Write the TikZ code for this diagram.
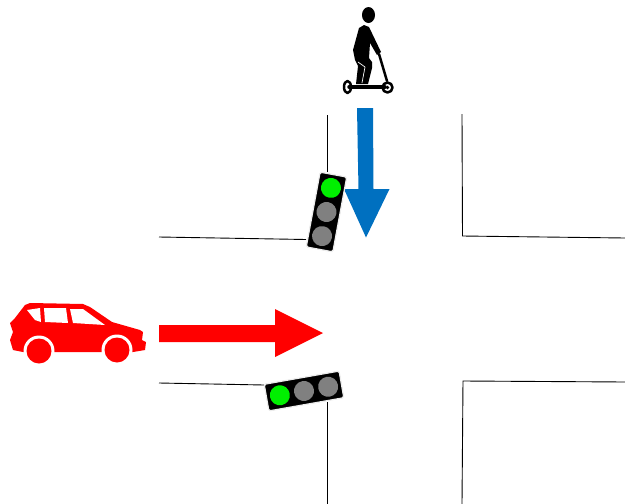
\documentclass[tikz,border=0pt]{standalone}
\definecolor{arrowblue}{HTML}{0070C0}
\definecolor{lampgreen}{HTML}{00F000}
\definecolor{lampgrey}{HTML}{808080}
\tikzset{
  road/.style={draw=black,line width=0.9pt},
  housing/.style={fill=black,draw=white!93!black,line width=1.2pt,rounded corners=1.5pt},
  carbody/.style={fill=red,draw=none},
  rider/.style={draw=black,line cap=round,line join=round},
}
\begin{document}
\begin{tikzpicture}[x=1pt,y=-1pt]
\useasboundingbox (0,0) rectangle (625,504);
% roads
\draw[road] (327,115) -- (327,172);
\draw[road] (159,237) -- (306,239.5);
\draw[road] (462,114) -- (462.5,236) -- (625,238);
\draw[road] (159,383) -- (264,385);
\draw[road] (327,402) -- (327,504);
\draw[road] (462,504) -- (463,381) -- (625,382);
% arrows
\fill[arrowblue] (357,108) -- (373,108) -- (373.5,189) -- (389.5,189) -- (366,237.5) -- (344,189) -- (358.5,189) -- cycle;
\fill[red] (159,325) -- (275,325) -- (275,309) -- (323,333) -- (275,357) -- (275,342) -- (159,342) -- cycle;
% north light
\begin{scope}[shift={(326.5,212)},rotate=-10.5]
\draw[housing] (-13.5,-38) rectangle (13.5,38);
\fill[lampgreen] (0,-24.5) circle (10);
\fill[lampgrey] (0,0) circle (10);
\fill[lampgrey] (0,24.5) circle (10);
\end{scope}
% south light
\begin{scope}[shift={(304,391)},rotate=10]
\draw[housing] (-38,-13.5) rectangle (38,13.5);
\fill[lampgreen] (-24.5,0) circle (10);
\fill[lampgrey] (0,0) circle (10);
\fill[lampgrey] (24.5,0) circle (10);
\end{scope}
% car
\fill[carbody] (10,323) -- (15,318) -- (25,305) -- (30,303) -- (83,304) -- (90,307) -- (112,322) -- (140,330) -- (143,332) -- (142,340) -- (146,342) -- (145,350) -- (133,352) -- (23,352) -- (13,350) -- (10,340) -- (13,332) -- cycle;
\fill[white] (39,351) circle (15.5);
\fill[white] (117,350) circle (15.5);
\fill[carbody] (39,351) circle (12.5);
\fill[carbody] (117,350) circle (12.5);
\fill[white] (27,310) -- (40,308) -- (41,322) -- (35,320) -- cycle;
\fill[white] (44,308) -- (66,308) -- (68,323) -- (45,322) -- cycle;
\fill[white] (70,309) -- (83,309) -- (105,325) -- (73,323) -- cycle;
% scooter rider
\fill[black] (368.5,15) ellipse (6.5 and 8);
\fill[black] (359,28) -- (364,25) -- (369,27) -- (381,52) -- (377,55) -- (370,43) -- (369,58) -- (372,62) -- (372,68) -- (368,84) -- (356,84) -- (358,66) -- (355,60) -- (353,50) -- cycle;
\draw[white,line width=0.7pt] (358,62) -- (365,67) -- (362,83);
\draw[rider,line width=2.5pt] (379,54) -- (387,81);
\draw[rider,line width=3.5pt] (349,87) -- (385,87);
\draw[rider,line width=2.5pt] (347.5,87) ellipse (3.5 and 6);
\draw[rider,line width=2.5pt] (387.5,87.5) circle (5);
\fill[black] (387.5,87.5) circle (1.8);
\end{tikzpicture}
\end{document}
